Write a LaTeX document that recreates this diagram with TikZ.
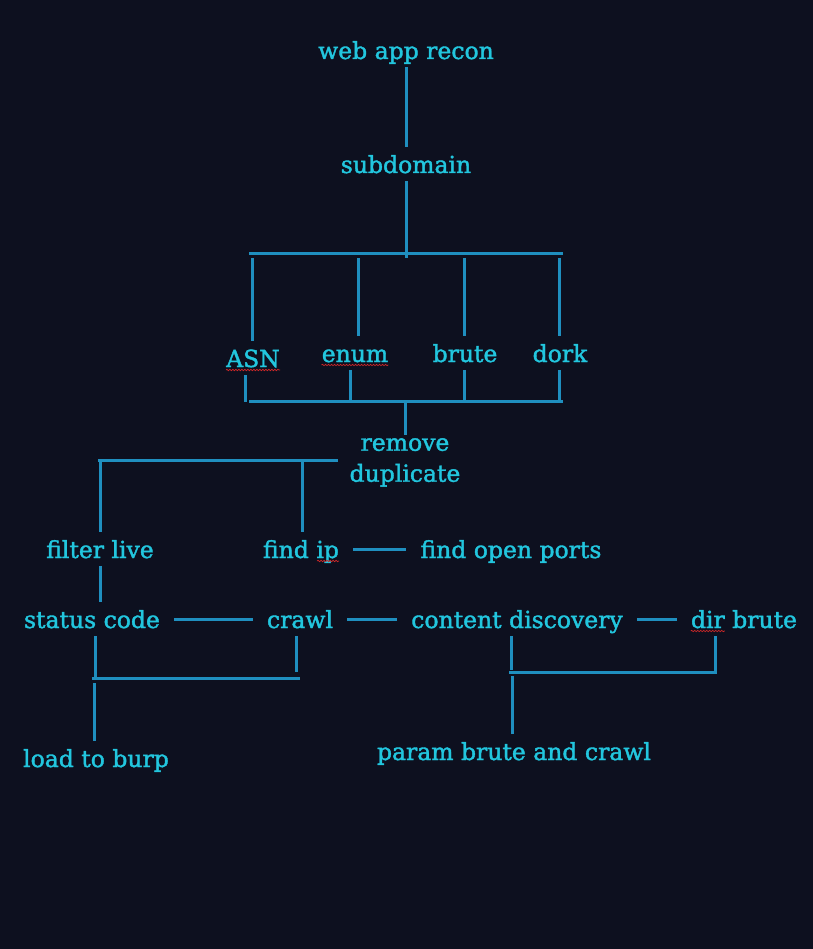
\documentclass[tikz,border=0pt]{standalone}
\usepackage{fontspec}
\setmainfont{DejaVu Serif}
\newfontfamily\lblfont[FakeBold=1.6]{DejaVu Serif}
\usetikzlibrary{decorations.pathmorphing}

\definecolor{bgdark}{HTML}{0D101F}
\definecolor{labelcyan}{HTML}{22C6DE}
\definecolor{linkblue}{HTML}{1F8FBF}
\definecolor{spellred}{HTML}{D02828}

\begin{document}
\begin{tikzpicture}[x=1pt, y=-1pt,
  lbl/.style={text=labelcyan, font=\lblfont\fontsize{23.5}{31}\selectfont, anchor=base,
    inner xsep=14pt, inner ysep=3pt, text height=23pt, text depth=5pt},
  twoline/.style={text=labelcyan, font=\lblfont\fontsize{23.5}{31}\selectfont, align=center,
    anchor=north, inner xsep=14pt, inner ysep=3pt},
  link/.style={draw=linkblue, line width=3pt},
  squig/.style={draw=spellred, line width=0.7pt, decorate,
    decoration={snake, amplitude=0.7pt, segment length=3pt}}]

\newcommand{\squigdrop}{-3pt}
\newcommand{\lblpad}{14pt}

% canvas
\useasboundingbox (0,0) rectangle (812,949);
\fill[bgdark] (-6,-6) rectangle (818,955);

% top of the tree
\node[lbl] (web) at (406,59) {web app recon};
\node[lbl] (sub) at (406,173) {subdomain};
\draw[link] (web) -- (sub);

% subdomain sources
\coordinate (fanT) at (406,258);
\coordinate (fanL) at (249,254);
\coordinate (fanR) at (563,254);
\coordinate (tA) at (252,258);
\coordinate (tE) at (358,258);
\coordinate (tB) at (464,258);
\coordinate (tD) at (559,258);
\draw[link] (sub) -- (fanT);
\draw[link] (fanL) -- (fanR);

\node[lbl] (asn) at (253,367) {ASN};
\node[lbl] (enum) at (355,362) {enum};
\node[lbl] (brute) at (465,362) {brute};
\node[lbl] (dork) at (560,362) {dork};
\draw[link] (tA) -- (tA |- asn.north);
\draw[link] (tE) -- (tE |- enum.north);
\draw[link] (tB) -- (tB |- brute.north);
\draw[link] (tD) -- (tD |- dork.north);

% merge the sources
\coordinate (lA) at (245,402);
\coordinate (lE) at (350,400);
\coordinate (lB) at (464,400);
\coordinate (lD) at (559,400);
\coordinate (lowL) at (249,401);
\coordinate (lowR) at (563,401);
\coordinate (lowM) at (405,402);
\draw[link] (asn.south -| lA) -- (lA);
\draw[link] (enum.south -| lE) -- (lE);
\draw[link] (brute.south -| lB) -- (lB);
\draw[link] (dork.south -| lD) -- (lD);
\draw[link] (lowL) -- (lowR);

\node[twoline] (dup) at (405,435) {remove\\duplicate};
\draw[link] (lowM) -- (lowM |- dup.north);

% split after duplicates
\coordinate (sL) at (98,460);
\coordinate (sR) at (338,460);
\coordinate (sF) at (100,462);
\coordinate (sI) at (302,461);
\draw[link] (sL) -- (sR);

\node[lbl] (filter) at (100,558) {filter live};
\node[lbl] (fip) at (301,558) {find ip};
\node[lbl] (ports) at (511,558) {find open ports};
\draw[link] (sF) -- (sF |- filter.north);
\draw[link] (sI) -- (sI |- fip.north);
\draw[link] (fip) -- (ports);

% live hosts
\node[lbl] (status) at (92,628) {status code};
\node[lbl] (crawl) at (300,628) {crawl};
\node[lbl] (content) at (517,628) {content discovery};
\node[lbl] (dirb) at (744,628) {dir brute};
\draw[link] (filter.south -| sF) -- (sF |- status.north);
\draw[link] (status) -- (crawl);
\draw[link] (crawl) -- (content);
\draw[link] (content) -- (dirb);

% burp branch
\coordinate (jS) at (95,677);
\coordinate (jC) at (296,672);
\coordinate (jL) at (92,678);
\coordinate (jR) at (300,678);
\coordinate (jB) at (94,683);
\draw[link] (status.south -| jS) -- (jS);
\draw[link] (crawl.south -| jC) -- (jC);
\draw[link] (jL) -- (jR);
\node[lbl] (burp) at (96,767) {load to burp};
\draw[link] (jB) -- (jB |- burp.north);

% param branch
\coordinate (cJ) at (511,670);
\coordinate (dJ) at (715,672);
\coordinate (pL) at (509,672);
\coordinate (pR) at (717,672);
\coordinate (pB) at (512,676);
\draw[link] (content.south -| cJ) -- (cJ);
\draw[link] (dirb.south -| dJ) -- (dJ);
\draw[link] (pL) -- (pR);
\node[lbl] (param) at (514,760) {param brute and crawl};
\draw[link] (pB) -- (pB |- param.north);

% spell-check marks
\draw[squig] ([xshift=\lblpad, yshift=\squigdrop]asn.base west) -- ([xshift=-\lblpad, yshift=\squigdrop]asn.base east);
\draw[squig] ([xshift=\lblpad, yshift=\squigdrop]enum.base west) -- ([xshift=-\lblpad, yshift=\squigdrop]enum.base east);
\draw[squig] ([xshift=-\lblpad-22pt, yshift=\squigdrop]fip.base east) -- ([xshift=-\lblpad, yshift=\squigdrop]fip.base east);
\draw[squig] ([xshift=\lblpad, yshift=\squigdrop]dirb.base west) -- ([xshift=\lblpad+34pt, yshift=\squigdrop]dirb.base west);

\end{tikzpicture}
\end{document}
